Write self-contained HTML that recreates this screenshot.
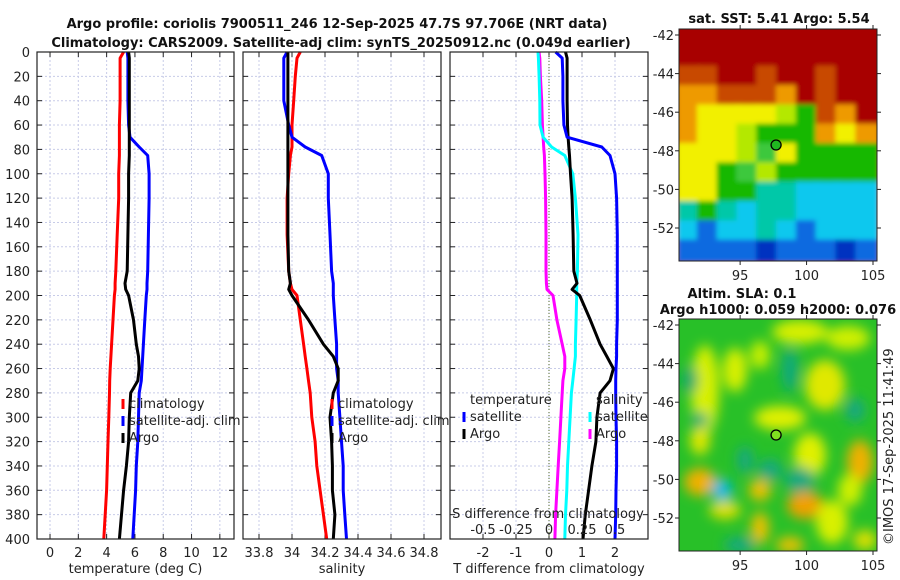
<!DOCTYPE html>
<html><head><meta charset="utf-8"><style>
html,body{margin:0;padding:0;background:#fff;}
svg{display:block;font-family:"DejaVu Sans","Liberation Sans",sans-serif;}
</style></head><body>
<svg id="fig" width="900" height="580" viewBox="0 0 900 580" xmlns="http://www.w3.org/2000/svg">
<defs>
<filter id="blur3" x="-20%" y="-20%" width="140%" height="140%"><feGaussianBlur stdDeviation="2.5"/></filter>
<filter id="blur6" x="-20%" y="-20%" width="140%" height="140%"><feGaussianBlur stdDeviation="6"/></filter>
<clipPath id="clipTop"><rect x="679" y="29" width="198" height="232"/></clipPath>
<clipPath id="clipBot"><rect x="679" y="319" width="198" height="232"/></clipPath>
</defs>
<g font-weight="bold" font-size="13" text-anchor="middle" fill="#111">
<text x="337" y="28">Argo profile: coriolis 7900511_246 12-Sep-2025 47.7S 97.706E (NRT data)</text>
<text x="341" y="47">Climatology: CARS2009. Satellite-adj clim: synTS_20250912.nc (0.049d earlier)</text>
<text x="779" y="23">sat. SST: 5.41 Argo: 5.54</text>
<text x="742" y="298">Altim. SLA: 0.1</text>
<text x="778" y="314">Argo h1000: 0.059 h2000: 0.076</text>
</g>
<g id="panels"></g>
<g id="maps"></g>
<text x="0" y="0" font-size="13" fill="#222" transform="translate(893,545) rotate(-90)">©IMOS 17-Sep-2025 11:41:49</text>
</svg>
<script>
// ---- data ----
const depths = [0,5,20,40,60,70,78,85,100,120,150,180,190,195,200,220,240,250,260,270,280,300,320,340,360,380,400];
const tempClim = [5.2,4.95,4.95,4.95,4.9,4.9,4.9,4.9,4.85,4.85,4.75,4.65,4.6,4.6,4.55,4.45,4.35,4.3,4.25,4.22,4.2,4.15,4.1,4.05,4.0,3.9,3.8];
const tempSat  = [5.45,5.5,5.5,5.5,5.55,5.65,6.3,6.9,7.0,7.0,6.95,6.9,6.85,6.85,6.8,6.7,6.6,6.55,6.5,6.45,6.3,6.25,6.2,6.1,6.05,5.95,5.85];
const tempArgo = [5.55,5.6,5.6,5.6,5.6,5.6,5.6,5.6,5.55,5.55,5.5,5.45,5.3,5.35,5.55,5.9,6.1,6.25,6.3,6.2,5.7,5.6,5.55,5.4,5.2,5.05,4.9];
const salClim = [34.05,34.03,34.02,34.01,34.0,34.0,34.0,33.99,33.98,33.97,33.97,33.98,33.99,34.0,34.03,34.05,34.07,34.08,34.09,34.1,34.11,34.12,34.14,34.15,34.17,34.19,34.21];
const salSat  = [33.97,33.95,33.95,33.95,33.98,34.0,34.08,34.18,34.22,34.22,34.23,34.24,34.25,34.25,34.25,34.26,34.27,34.27,34.27,34.28,34.28,34.29,34.3,34.31,34.31,34.32,34.33];
const salArgo = [33.975,33.975,33.975,33.975,33.975,33.975,33.975,33.975,33.975,33.975,33.975,33.98,33.99,33.98,34.0,34.1,34.19,34.25,34.28,34.28,34.25,34.23,34.24,34.245,34.245,34.26,34.25];
const tDiffSat  = [0.2,0.4,0.42,0.42,0.45,0.55,1.6,1.85,2.0,2.05,2.07,2.07,2.07,2.07,2.07,2.07,2.05,2.05,2.03,2.02,2.02,2.03,2.05,2.05,2.03,2.02,2.0];
const tDiffArgo = [0.5,0.55,0.55,0.55,0.56,0.58,0.6,0.62,0.65,0.7,0.73,0.75,0.85,0.7,0.93,1.25,1.55,1.75,1.95,1.85,1.55,1.45,1.42,1.3,1.2,1.1,1.03];
const sDiffSat  = [-0.083,-0.08,-0.075,-0.07,-0.068,-0.045,0.02,0.12,0.18,0.2,0.22,0.215,0.21,0.21,0.21,0.205,0.2,0.2,0.19,0.18,0.17,0.16,0.15,0.14,0.135,0.125,0.12];
const sDiffArgo = [-0.076,-0.07,-0.065,-0.055,-0.05,-0.045,-0.04,-0.035,-0.03,-0.026,-0.023,-0.023,-0.02,-0.015,0.03,0.06,0.1,0.12,0.12,0.105,0.1,0.09,0.08,0.07,0.06,0.05,0.045];
const depthTicks = [0,20,40,60,80,100,120,140,160,180,200,220,240,260,280,300,320,340,360,380,400];
const tempTicks = [0,2,4,6,8,10,12];
const salTicks = [33.8,34,34.2,34.4,34.6,34.8];
const salTickLabels = ["33.8","34","34.2","34.4","34.6","34.8"];
const tdTicks = [-2,-1,0,1,2];
const sdTickLabels = ["-0.5","-0.25","0","0.25","0.5"];
const latTicks = [-42,-44,-46,-48,-50,-52];
const lonTicks = [95,100,105];

const NS = "http://www.w3.org/2000/svg";
function mk(tag, attrs, parent){const e=document.createElementNS(NS,tag);for(const k in attrs)e.setAttribute(k,attrs[k]);parent.appendChild(e);return e;}
const Y0=52, Y1=539;
const yD = d => Y0 + (d/400)*(Y1-Y0);
const panels = [
 {x0:37,x1:234,min:-0.92,max:13.0,name:'temperature'},
 {x0:243,x1:441,min:33.703,max:34.903,name:'salinity'},
 {x0:450,x1:648,min:-3,max:3,name:'difference'}
];
function xs(p){return v => p.x0 + (v-p.min)/(p.max-p.min)*(p.x1-p.x0);}
const G = document.getElementById('panels');

function drawPanel(p, ticks, labels, xlabel){
  const g = mk('g',{},G);
  
  
  const X = xs(p);
  depthTicks.forEach(d=>{ if(d>0&&d<400){const l=mk('line',{x1:p.x0,x2:p.x1,y1:yD(d),y2:yD(d),stroke:'#c8cce8','stroke-width':1,'stroke-dasharray':'2,2'},g);
    
    }});
  ticks.forEach(t=>{const l=mk('line',{x1:X(t),x2:X(t),y1:Y0,y2:Y1,stroke:'#c8cce8','stroke-width':1,'stroke-dasharray':'2,2'},g);
    
    });
  depthTicks.forEach(d=>{mk('line',{x1:p.x0,x2:p.x0+5,y1:yD(d),y2:yD(d),stroke:'#222'},g);mk('line',{x1:p.x1,x2:p.x1-5,y1:yD(d),y2:yD(d),stroke:'#222'},g);});
  ticks.forEach((t,i)=>{mk('line',{x1:X(t),x2:X(t),y1:Y1,y2:Y1-5,stroke:'#222'},g);mk('line',{x1:X(t),x2:X(t),y1:Y0,y2:Y0+5,stroke:'#222'},g);
    const tx=mk('text',{x:X(t),y:Y1+18,'font-size':13,'text-anchor':'middle',fill:'#222'},g);tx.textContent=labels[i];
    
    });
  const xl=mk('text',{x:(p.x0+p.x1)/2,y:Y1+34,'font-size':13,'text-anchor':'middle',fill:'#222'},g);xl.textContent=xlabel;
  
  
  return {g,X};
}
function series(g, X, vals, color, name, w){
  const pts = vals.map((v,i)=>X(v).toFixed(1)+','+yD(depths[i]).toFixed(1)).join(' ');
  const pl = mk('polyline',{points:pts,fill:'none',stroke:color,'stroke-width':w||3,'stroke-linejoin':'round'},g);
  
  
}
function legend(g, x, y, color, label, name){
  mk('line',{x1:x,x2:x,y1:y-9,y2:y+1,stroke:color,'stroke-width':3},g);
  const t=mk('text',{x:x+6,y:y,'font-size':13,fill:'#222'},g);t.textContent=label;
  
  
}
let a = drawPanel(panels[0], tempTicks, tempTicks.map(String), 'temperature (deg C)');
series(a.g,a.X,tempClim,'#ff0000','climatology-temp-line');
series(a.g,a.X,tempSat,'#0000ff','satellite-temp-line');
series(a.g,a.X,tempArgo,'#000000','argo-temp-line');
legend(a.g,123,408,'#ff0000','climatology','legend-climatology');
legend(a.g,123,425,'#0000ff','satellite-adj. clim','legend-satellite-adj');
legend(a.g,123,442,'#000000','Argo','legend-argo');
depthTicks.forEach(d=>{const t=mk('text',{x:30,y:yD(d)+5,'font-size':13,'text-anchor':'end',fill:'#222'},a.g);t.textContent=String(d);
  
  });
let b = drawPanel(panels[1], salTicks, salTickLabels, 'salinity');
series(b.g,b.X,salClim,'#ff0000','climatology-sal-line');
series(b.g,b.X,salSat,'#0000ff','satellite-sal-line');
series(b.g,b.X,salArgo,'#000000','argo-sal-line');
legend(b.g,332,408,'#ff0000','climatology','legend-climatology-sal');
legend(b.g,332,425,'#0000ff','satellite-adj. clim','legend-satellite-adj-sal');
legend(b.g,332,442,'#000000','Argo','legend-argo-sal');
let c = drawPanel(panels[2], tdTicks, tdTicks.map(String), 'T difference from climatology');
const z=mk('line',{x1:c.X(0),x2:c.X(0),y1:Y0,y2:Y1,stroke:'#556b2f','stroke-width':1,'stroke-dasharray':'1,2'},c.g);


const XS = s => c.X(s*4);
series(c.g,XS,sDiffArgo,'#ff00ff','argo-sdiff-line');
series(c.g,XS,sDiffSat,'#00ffff','satellite-sdiff-line');
series(c.g,c.X,tDiffArgo,'#000000','argo-tdiff-line');
series(c.g,c.X,tDiffSat,'#0000ff','satellite-tdiff-line');
let th=mk('text',{x:470,y:404,'font-size':13,fill:'#222'},c.g);th.textContent='temperature';


let sh=mk('text',{x:596,y:404,'font-size':13,fill:'#222'},c.g);sh.textContent='salinity';


legend(c.g,464,421,'#0000ff','satellite','legend-t-satellite');
legend(c.g,464,438,'#000000','Argo','legend-t-argo');
legend(c.g,590,421,'#00ffff','satellite','legend-s-satellite');
legend(c.g,590,438,'#ff00ff','Argo','legend-s-argo');
let st=mk('text',{x:548,y:518,'font-size':13,'text-anchor':'middle',fill:'#222'},c.g);st.textContent='S difference from climatology';


tdTicks.forEach((t,i)=>{const tx=mk('text',{x:c.X(t),y:534,'font-size':13,'text-anchor':'middle',fill:'#222'},c.g);tx.textContent=sdTickLabels[i];
  
  });
panels.forEach(p=>{const r=mk('rect',{x:p.x0,y:Y0,width:p.x1-p.x0,height:Y1-Y0,fill:'none',stroke:'#222','stroke-width':1.2},G);
  
  });

// ---- maps ----
const M = document.getElementById('maps');
const MX0=679,MX1=877;
const lonX = lon => MX0 + (lon-90.4)*(MX1-MX0)/(105.3-90.4);
function latY(top){return lat => top+6 + (-42-lat)*19.3;}
const sstGrid = [
 "RRRRRRRRRR","RRRRRRRRRR","rrRRrRRrRR","oorrroRrRR","oyyyylgroR","oyylgggoyo",
 "yyylGygggg","yygGlggggg","yyggttcccc","tgtcttcccc","cbcctcbccc","bbbbBbbbBb"];
const sstCol = {R:'#a80000',r:'#c84a00',o:'#ee9a00',y:'#f2f000',l:'#b4e800',g:'#18b800',G:'#3cc83c',t:'#00c8a8',c:'#08c8ee',b:'#0a6ae0',B:'#0030c0'};
function drawMap(name){
  const g=mk('g',{},M);
  
  
  return g;
}
const gTop = drawMap('sst-map');
const inner = mk('g',{'clip-path':'url(#clipTop)'},gTop);
const ig = mk('g',{filter:'url(#blur3)'},inner);
mk('rect',{x:670,y:20,width:220,height:250,fill:'#a80000'},ig);
sstGrid.forEach((row,r)=>{for(let k=0;k<row.length;k++){mk('rect',{x:MX0+k*19.8-2,y:29+r*19.33-2,width:23.8,height:23.3,fill:sstCol[row[k]]},ig);}});
const gBot = drawMap('sla-map');
const inner2 = mk('g',{'clip-path':'url(#clipBot)'},gBot);
mk('rect',{x:679,y:319,width:198,height:232,fill:'#28c028'},inner2);
const ib = mk('g',{filter:'url(#blur6)'},inner2);
const blobs = [[705,390,14,45,'#d8f000'],[700,482,16,14,'#f0b000'],[735,370,12,22,'#d8f000'],[800,332,28,12,'#d8f000'],[848,338,22,12,'#d0f000'],
 [825,385,20,25,'#e0e800'],[780,418,26,12,'#e0f000'],[810,455,16,22,'#e0f000'],[860,462,13,22,'#f0b000'],[805,505,18,14,'#f0a000'],
 [760,490,11,11,'#f0c000'],[760,528,9,16,'#f0c000'],[725,510,16,9,'#e0e000'],[832,522,16,22,'#d8f000'],[850,490,12,16,'#d0f000'],
 [700,440,10,15,'#e0e800'],[760,355,10,14,'#c8f000'],[865,540,12,10,'#e0e000'],[790,545,14,8,'#f0c000'],
 [790,370,8,22,'#10a880'],[722,490,10,11,'#00b8e8'],[690,380,8,14,'#10a870'],[770,470,12,11,'#18a880'],[800,480,15,13,'#18a880'],
 [700,420,8,8,'#18a880'],[740,545,16,8,'#18a880'],[855,410,10,12,'#18a880'],[745,460,8,14,'#18a880']];
blobs.forEach(b=>mk('ellipse',{cx:b[0],cy:b[1],rx:b[2],ry:b[3],fill:b[4]},ib));
[[29,gTop],[319,gBot]].forEach(([top,g])=>{
  const Yl=latY(top);
  const m=mk('circle',{cx:lonX(97.706),cy:Yl(-47.7),r:5,fill:top===29?'#20b820':'#80e020',stroke:'#000','stroke-width':1.3},g);
  
  
  mk('rect',{x:MX0,y:top,width:MX1-MX0,height:232,fill:'none',stroke:'#222','stroke-width':1},g);
  latTicks.forEach(l=>{const y=Yl(l);mk('line',{x1:MX0,x2:MX0-4,y1:y,y2:y,stroke:'#222'},g);mk('line',{x1:MX1,x2:MX1+4,y1:y,y2:y,stroke:'#222'},g);
    const t=mk('text',{x:674,y:y+5,'font-size':13,'text-anchor':'end',fill:'#222'},g);t.textContent=String(l);
    
    });
  lonTicks.forEach(l=>{const x=lonX(l);mk('line',{x1:x,x2:x,y1:top+232,y2:top+236,stroke:'#222'},g);mk('line',{x1:x,x2:x,y1:top,y2:top-4,stroke:'#222'},g);
    const t=mk('text',{x:x,y:top+251,'font-size':13,'text-anchor':'middle',fill:'#222'},g);t.textContent=String(l);
    
    });
});
</script>
</body></html>
